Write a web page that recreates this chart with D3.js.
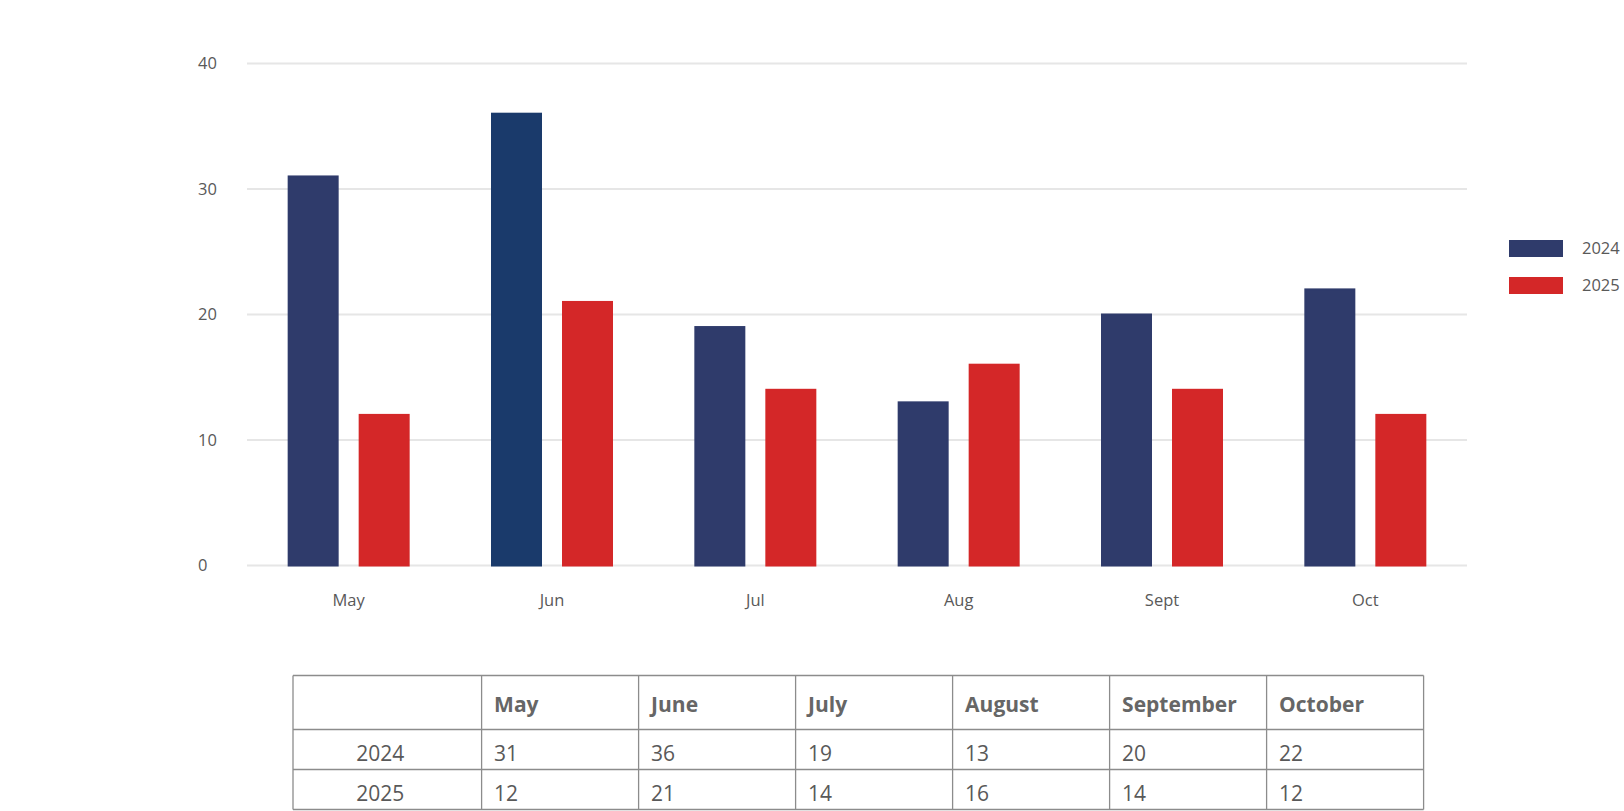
<!DOCTYPE html>
<html>
<head>
<meta charset="utf-8">
<script src="https://cdn.jsdelivr.net/npm/d3@7"></script>
<style>
  body { margin: 0; background: #fff; }
  text { font-family: "Open Sans", sans-serif; }
</style>
</head>
<body>
<div id="chart"></div>
<script>
// Data
const months = ["May", "Jun", "Jul", "Aug", "Sept", "Oct"];
const fullMonths = ["May", "June", "July", "August", "September", "October"];
const series = ["2024", "2025"];
const values2024 = [31, 36, 19, 13, 20, 22];
const values2025 = [12, 21, 14, 16, 14, 12];
const yTicks = [0, 10, 20, 30, 40];

const colors = ["#2f3b6b", "#d42728"];
const junColor = "#1a3a6b"; // the June 2024 bar is a slightly different blue

const width = 1624, height = 811;
const svg = d3.select("#chart").append("svg")
    .attr("width", width)
    .attr("height", height);

// Scales
const x = d3.scaleBand().domain(months).range([247, 1467]);
const y = d3.scaleLinear().domain([0, 40]).range([565.5, 63.5]);

// Gridlines + y labels
svg.selectAll(".grid")
    .data(yTicks)
    .enter().append("line")
    .attr("x1", 247).attr("x2", 1467)
    .attr("y1", d => y(d)).attr("y2", d => y(d))
    .attr("stroke", "#e6e6e6")
    .attr("stroke-width", 2);

svg.selectAll(".ylab")
    .data(yTicks)
    .enter().append("text")
    .attr("x", 198)
    .attr("y", d => y(d))
    .attr("dy", "0.35em")
    .attr("font-size", 16.5)
    .attr("fill", "#595959")
    .text(d => d);

// Bars
const barW = 49;
const allSeries = [values2024, values2025];
allSeries.forEach((vals, s) => {
    svg.selectAll(".bar" + s)
        .data(vals)
        .enter().append("rect")
        .attr("x", (d, i) => x(months[i]) + x.bandwidth() / 2 + (s === 0 ? -60 : 11))
        .attr("y", d => y(d))
        .attr("width", barW)
        .attr("height", d => y(0) - y(d))
        .attr("fill", (d, i) => s === 0 && months[i] === "Jun" ? junColor : colors[s])
        .attr("stroke", (d, i) => s === 0 && months[i] === "Jun" ? junColor : colors[s])
        .attr("stroke-width", 2);
});

// X labels
svg.selectAll(".xlab")
    .data(months)
    .enter().append("text")
    .attr("x", d => x(d) + x.bandwidth() / 2)
    .attr("y", 606)
    .attr("text-anchor", "middle")
    .attr("font-size", 16.5)
    .attr("fill", "#595959")
    .text(d => d);

// Legend
const legend = svg.selectAll(".legend")
    .data(series)
    .enter().append("g")
    .attr("transform", (d, i) => `translate(1509,${240 + i * 37})`);
legend.append("rect")
    .attr("width", 54).attr("height", 17)
    .attr("fill", (d, i) => colors[i]);
legend.append("text")
    .attr("x", 73).attr("y", 8.5)
    .attr("dy", "0.35em")
    .attr("font-size", 16.5)
    .attr("fill", "#595959")
    .text(d => d);

// Data table
const colWidths = [188.6, 157, 157, 157, 157, 157, 157];
const colX = [293].concat(Array.from(d3.cumsum(colWidths), w => 293 + w));
const rowY = [675.5, 729.5, 769.5, 809.5];
const table = svg.append("g");

table.selectAll(".hline")
    .data(rowY)
    .enter().append("line")
    .attr("x1", colX[0]).attr("x2", colX[colX.length - 1])
    .attr("y1", d => d).attr("y2", d => d)
    .attr("stroke", "#8c8c8c").attr("stroke-width", 1.3);
table.selectAll(".vline")
    .data(colX)
    .enter().append("line")
    .attr("x1", d => d).attr("x2", d => d)
    .attr("y1", rowY[0]).attr("y2", rowY[rowY.length - 1])
    .attr("stroke", "#8c8c8c").attr("stroke-width", 1.3);

table.selectAll(".head")
    .data(fullMonths)
    .enter().append("text")
    .attr("x", (d, i) => colX[i + 1] + 12.5)
    .attr("y", 711.5)
    .attr("font-size", 21)
    .attr("font-weight", "bold")
    .attr("fill", "#666666")
    .text(d => d);

allSeries.forEach((vals, s) => {
    const baseY = s === 0 ? 760.5 : 800.5;
    table.append("text")
        .attr("x", (colX[0] + colX[1]) / 2 - 7)
        .attr("y", baseY)
        .attr("text-anchor", "middle")
        .attr("font-size", 21)
        .attr("fill", "#595959")
        .text(series[s]);
    table.selectAll(".cell" + s)
        .data(vals)
        .enter().append("text")
        .attr("x", (d, i) => colX[i + 1] + 12.5)
        .attr("y", baseY)
        .attr("font-size", 21)
        .attr("fill", "#595959")
        .text(d => d);
});
</script>
</body>
</html>
